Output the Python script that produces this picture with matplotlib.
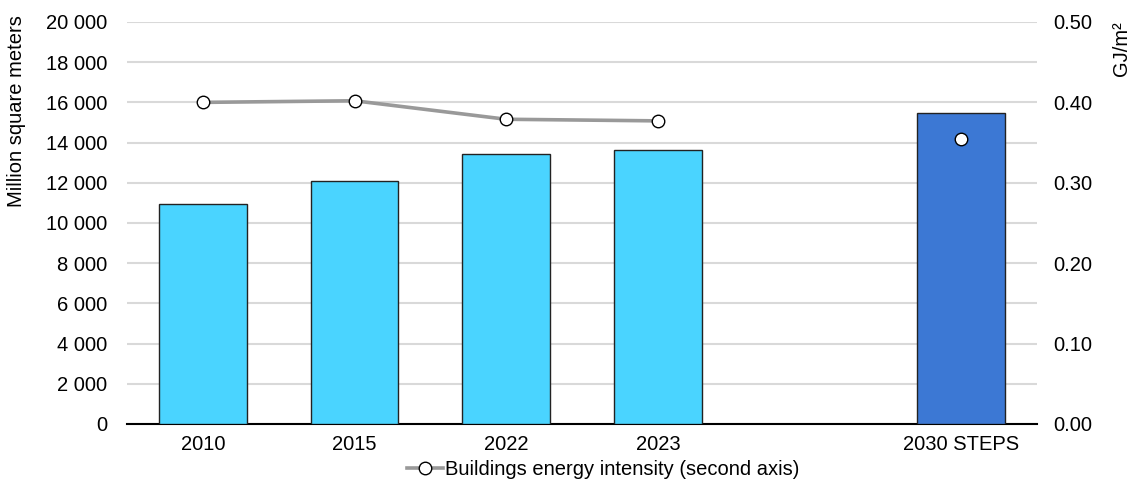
import numpy as np
import matplotlib.pyplot as plt

plt.rcParams['font.family'] = ['Liberation Sans', 'DejaVu Sans']

categories = ['2010', '2015', '2022', '2023', '', '2030 STEPS']
floor_area = [10950, 12100, 13420, 13630, np.nan, 15470]
intensity = [0.400, 0.402, 0.379, 0.377, np.nan, 0.354]
bar_colors = ['#4AD4FF', '#4AD4FF', '#4AD4FF', '#4AD4FF', '#4AD4FF', '#3C78D4']

fig = plt.figure(figsize=(11.31, 4.83), dpi=100)
ax = fig.add_axes([0.1123, 0.1222, 0.8046, 0.8323])
ax2 = ax.twinx()

x = np.arange(len(categories))
ax.bar(x, floor_area, width=0.58, color=bar_colors, edgecolor='#222222',
       linewidth=1.0, zorder=3)

# line on the second axis: NaN in empty slot leaves 2030 unconnected
ax2.plot(x, intensity, color='#999999', linewidth=2.6, marker='o',
         markersize=9, markerfacecolor='white', markeredgecolor='black',
         markeredgewidth=1.0, zorder=5,
         label='Buildings energy intensity (second axis)')

ax.set_xlim(-0.5, len(categories) - 0.5)
ax.set_ylim(0, 20000)
ax.set_yticks(np.arange(0, 20001, 2000))
ax.set_yticklabels([f'{v:,}'.replace(',', ' ') for v in range(0, 20001, 2000)])
ax2.set_ylim(0, 0.5)
ax2.set_yticks(np.arange(0, 0.51, 0.1))
ax2.set_yticklabels([f'{v:.2f}' for v in np.arange(0, 0.51, 0.1)])

ax.set_xticks(x)
ax.set_xticklabels(categories)
ax.yaxis.grid(True, color='#D9D9D9', linewidth=1.5, zorder=0)
ax.set_axisbelow(True)

for a in (ax, ax2):
    for s in ('top', 'left', 'right', 'bottom'):
        a.spines[s].set_visible(False)
    a.tick_params(length=0, labelsize=14.5, colors='black')
ax.spines['bottom'].set_visible(True)
ax.spines['bottom'].set_color('black')
ax.spines['bottom'].set_linewidth(1.5)
ax.tick_params(axis='x', pad=8)
ax.tick_params(axis='y', pad=14)
ax2.tick_params(axis='y', pad=12)
ax2.set_zorder(ax.get_zorder() + 1)
ax2.patch.set_visible(False)

fig.text(0.015, 0.77, 'Million square meters', rotation=90, ha='center',
         va='center', fontsize=14.5)
fig.text(0.992, 0.9, 'GJ/m²', rotation=90, ha='center', va='center',
         fontsize=14.5)

fig.legend(loc='center', bbox_to_anchor=(0.533, 0.027), frameon=False,
           fontsize=14.5, handlelength=1.8, handletextpad=0.1)

fig.savefig('out.png', dpi=100)
